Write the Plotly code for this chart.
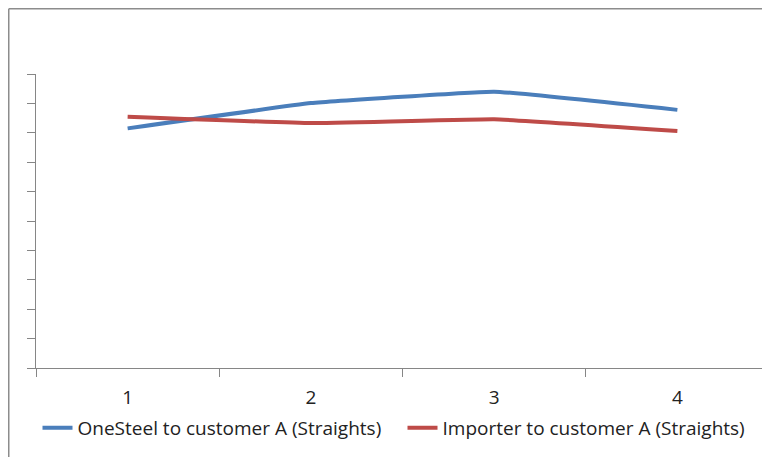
import plotly.graph_objects as go

categories = [1, 2, 3, 4]
tick_labels = ["1", "2", "3", "4"]
onesteel = [8.15, 9.01, 9.40, 8.78]
importer = [8.55, 8.33, 8.46, 8.06]

# page has an 8px body margin, so figure is sized to fit the window
OFF = 8
W, H = 770 - OFF, 465 - 2 * OFF
L, R, T = 36 - OFF, 1, 74 - OFF
B = H - (368 - OFF)
pw = W - L - R
ph = H - T - B

fig = go.Figure()
fig.add_trace(go.Scatter(x=categories, y=onesteel, mode="lines",
                         name="OneSteel to customer A (Straights)",
                         line=dict(color="#4A7EBB", width=4, shape="spline", smoothing=0.25)))
fig.add_trace(go.Scatter(x=categories, y=importer, mode="lines",
                         name="Importer to customer A (Straights)",
                         line=dict(color="#BE4B48", width=4, shape="spline", smoothing=0.25)))

x_left = (0.75 - L) / pw
y_top = (H - B - 0.75) / ph
fig.update_layout(
    width=W, height=H,
    margin=dict(l=L, r=R, t=T, b=B),
    paper_bgcolor="white", plot_bgcolor="white",
    font=dict(family="Open Sans, Liberation Sans, sans-serif", size=19, color="#222"),
    showlegend=True,
    legend=dict(orientation="h", x=0.5, xanchor="center", y=-(428 - 368) / ph, yanchor="middle",
                font=dict(size=19, color="#222"), entrywidth=320, entrywidthmode="pixels",
                tracegroupgap=0, bgcolor="rgba(0,0,0,0)"),
    xaxis=dict(range=[0.5, 4.5], tickvals=categories, ticktext=tick_labels, ticks="",
               showline=True, linecolor="#868686", linewidth=1, showgrid=False, zeroline=False,
               tickfont=dict(size=19, color="#222"), ticklabelstandoff=12,
               minor=dict(tickvals=[0.5, 1.5, 2.5, 3.5, 4.5], ticks="outside", ticklen=8,
                          tickcolor="#868686", showgrid=False)),
    yaxis=dict(range=[0, 10], dtick=1, ticks="outside", ticklen=8, tickcolor="#868686",
               showticklabels=False, showline=True, linecolor="#868686", linewidth=1,
               showgrid=False, zeroline=False),
    shapes=[
        dict(type="line", xref="paper", yref="paper", x0=x_left, x1=x_left,
             y0=-(B + 20) / ph, y1=y_top, line=dict(color="#8c8c8c", width=1.5), layer="below"),
        dict(type="line", xref="paper", yref="paper", x0=x_left, x1=(W + 20 - L) / pw,
             y0=y_top, y1=y_top, line=dict(color="#8c8c8c", width=1.5), layer="below"),
    ],
)

fig.write_html("out.html")
